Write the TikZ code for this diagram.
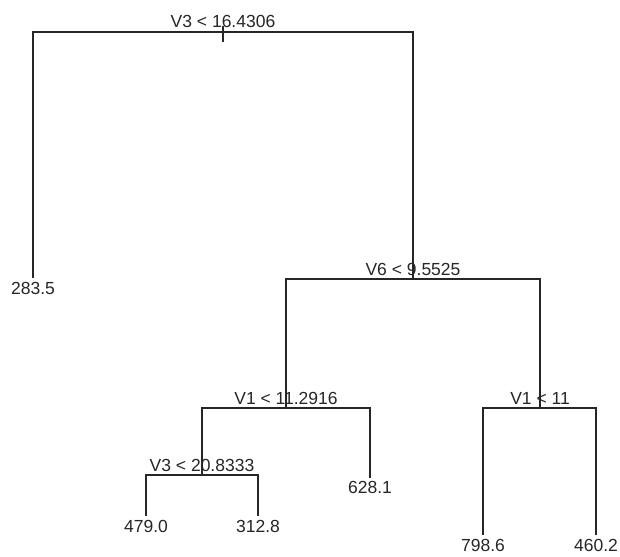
\documentclass[tikz,border=0pt]{standalone}
\usepackage{fontspec}
\setmainfont{Liberation Sans}
\begin{document}
\begin{tikzpicture}[x=1pt,y=-1pt,
  edge/.style={draw=black!85,line width=1.4pt},
  splitlab/.style={anchor=base,inner sep=0pt,font=\fontsize{17.5}{20}\selectfont,text=black!85},
  leaflab/.style={anchor=north,inner sep=0pt,font=\fontsize{17.5}{20}\selectfont,text=black!85}]
\useasboundingbox (0,0) rectangle (620,556);
% split points
\coordinate (s1) at (223,32);
\coordinate (s2) at (413,279);
\coordinate (s3) at (286,408);
\coordinate (s4) at (202,475);
\coordinate (s5) at (540,408);
% leaf ends
\coordinate (e1) at (33,278);
\coordinate (e2) at (146,516);
\coordinate (e3) at (258,516);
\coordinate (e4) at (370,478);
\coordinate (e5) at (483,535);
\coordinate (e6) at (596,535);
\coordinate (stubtop) at (223,26);
\coordinate (stubbot) at (223,42);
% edges
\draw[edge] (stubtop) -- (stubbot);
\draw[edge] (e1) |- (s1) -| (s2);
\draw[edge] (s3) |- (s2) -| (s5);
\draw[edge] (s4) |- (s3) -| (e4);
\draw[edge] (e2) |- (s4) -| (e3);
\draw[edge] (e5) |- (s5) -| (e6);
% split labels
\node[splitlab] (t1) at (223,28) {V3 < 16.4306};
\node[splitlab] (t2) at (413,275) {V6 < 9.5525};
\node[splitlab] (t3) at (286,404) {V1 < 11.2916};
\node[splitlab] (t4) at (202,471) {V3 < 20.8333};
\node[splitlab] (t5) at (540,404) {V1 < 11};
% leaf labels
\node[leaflab] (l1) at (33,282) {283.5};
\node[leaflab] (l2) at (146,520) {479.0};
\node[leaflab] (l3) at (258,520) {312.8};
\node[leaflab] (l4) at (370,481) {628.1};
\node[leaflab] (l5) at (483,539) {798.6};
\node[leaflab] (l6) at (596,539) {460.2};
\end{tikzpicture}
\end{document}
